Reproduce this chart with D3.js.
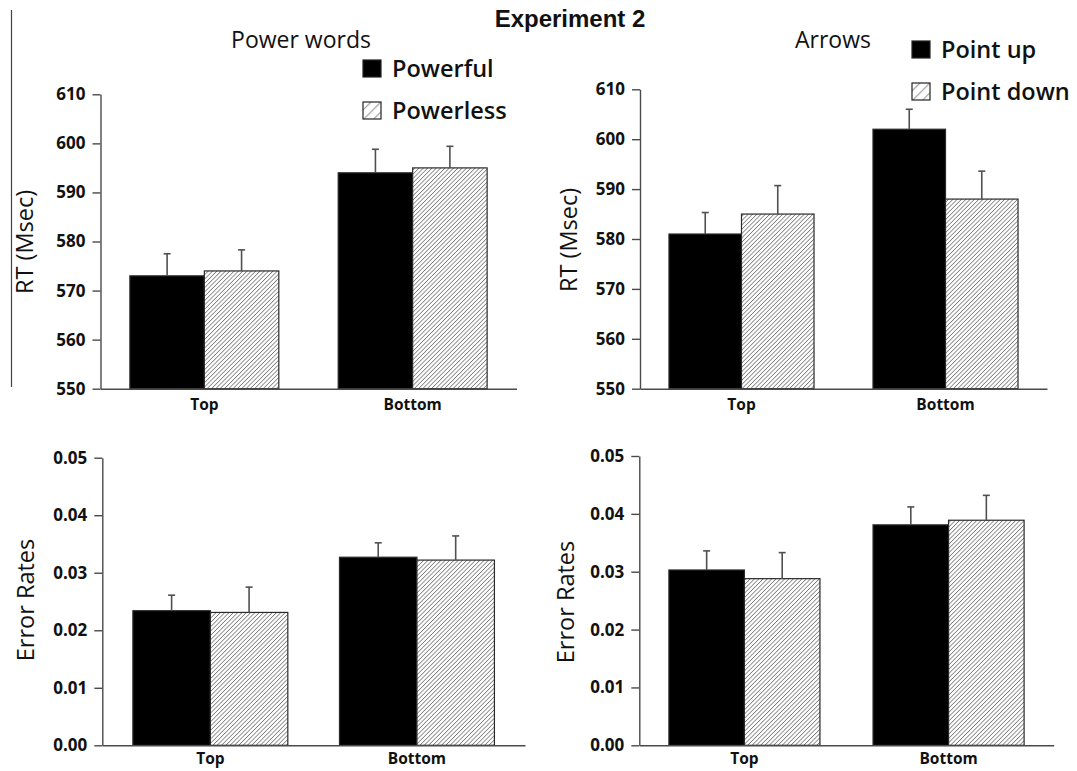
<!DOCTYPE html>
<html>
<head>
<meta charset="utf-8">
<script src="https://cdn.jsdelivr.net/npm/d3@7"></script>
<style>
  html, body { margin: 0; padding: 0; background: #fff; }
  svg { display: block; }
</style>
</head>
<body>
<div id="chart"></div>
<script>
const categories = ["Top", "Bottom"]
const powerSeries = ["Powerful", "Powerless"]
const arrowSeries = ["Point up", "Point down"]

const rtTicks = [550, 560, 570, 580, 590, 600, 610]
const errTicks = [0, 0.01, 0.02, 0.03, 0.04, 0.05]

// RT (msec), mean and SE per category (Top, Bottom)
const powerfulRT = [573, 594]
const powerfulRTse = [4.5, 4.8]
const powerlessRT = [574, 595]
const powerlessRTse = [4.3, 4.4]
const pointUpRT = [581, 602]
const pointUpRTse = [4.3, 4.0]
const pointDownRT = [585, 588]
const pointDownRTse = [5.7, 5.6]

// Error rates
const powerfulErr = [0.0234, 0.0327]
const powerfulErrSe = [0.0027, 0.0025]
const powerlessErr = [0.0231, 0.0322]
const powerlessErrSe = [0.0044, 0.0042]
const pointUpErr = [0.0303, 0.0381]
const pointUpErrSe = [0.0033, 0.0031]
const pointDownErr = [0.0288, 0.0389]
const pointDownErrSe = [0.0045, 0.0043]

const W = 1077, H = 771
const FONT = "'Open Sans', 'Noto Sans', sans-serif"
const axisColor = "#4a4a4a"

const svg = d3.select("#chart").append("svg")
  .attr("width", W)
  .attr("height", H)
  .style("font-family", FONT)

const defs = svg.append("defs")

function hatch(id, gap, width, color) {
  const p = defs.append("pattern")
    .attr("id", id)
    .attr("patternUnits", "userSpaceOnUse")
    .attr("width", gap)
    .attr("height", gap)
    .attr("patternTransform", "rotate(45)")
  p.append("rect").attr("width", gap).attr("height", gap).attr("fill", "#fff")
  p.append("line")
    .attr("x1", 0).attr("y1", 0)
    .attr("x2", 0).attr("y2", gap)
    .attr("stroke", color)
    .attr("stroke-width", width)
}
hatch("hatch", 3.05, 1.6, "#7a7a7a")
hatch("hatch-legend", 7, 2.4, "#a0a0a0")

const fills = ["#000", "url(#hatch)"]
const legendFills = ["#000", "url(#hatch-legend)"]

function drawPanel(cfg) {
  const g = svg.append("g")

  const x = d3.scaleBand()
    .domain(categories)
    .range([cfg.x0, cfg.x1])
    .paddingInner(cfg.padIn)
    .paddingOuter(cfg.padOut)

  const xs = d3.scaleBand()
    .domain(d3.range(cfg.series.length))
    .range([0, x.bandwidth()])

  const y = d3.scaleLinear()
    .domain(d3.extent(cfg.ticks))
    .range([cfg.yBottom, cfg.yTop])

  const rows = []
  cfg.series.forEach((s, si) => {
    categories.forEach((c, ci) => {
      rows.push({ si, c, v: cfg.values[si][ci], se: cfg.errors[si][ci] })
    })
  })

  // Bars
  g.selectAll(".bar")
    .data(rows)
    .enter()
    .append("rect")
    .attr("class", "bar")
    .attr("x", d => x(d.c) + xs(d.si))
    .attr("y", d => y(d.v))
    .attr("width", xs.bandwidth())
    .attr("height", d => y(cfg.ticks[0]) - y(d.v))
    .attr("fill", d => fills[d.si])
    .attr("stroke", "#2a2a2a")
    .attr("stroke-width", 1.2)

  // Error bars (upper only)
  const cx = d => x(d.c) + xs(d.si) + xs.bandwidth() / 2
  g.selectAll(".err")
    .data(rows)
    .enter()
    .append("line")
    .attr("class", "err")
    .attr("x1", cx).attr("x2", cx)
    .attr("y1", d => y(d.v))
    .attr("y2", d => y(d.v + d.se))
    .attr("stroke", "#505050")
    .attr("stroke-width", 1.6)
  g.selectAll(".cap")
    .data(rows)
    .enter()
    .append("line")
    .attr("class", "cap")
    .attr("x1", d => cx(d) - 3.5).attr("x2", d => cx(d) + 3.5)
    .attr("y1", d => y(d.v + d.se))
    .attr("y2", d => y(d.v + d.se))
    .attr("stroke", "#505050")
    .attr("stroke-width", 1.6)

  // Y axis
  const yAxis = g.append("g")
    .attr("transform", `translate(${cfg.x0},0)`)
    .call(d3.axisLeft(y).tickValues(cfg.ticks).tickFormat(cfg.format).tickSize(8).tickSizeOuter(0).tickPadding(7))
  yAxis.select(".domain").attr("stroke", axisColor).attr("stroke-width", 1.4)
  yAxis.selectAll(".tick line").attr("stroke", axisColor).attr("stroke-width", 1.4)
  yAxis.selectAll(".tick text")
    .attr("fill", "#111")
    .style("font-family", FONT)
    .style("font-size", "17px")
    .style("font-weight", "bold")

  // X axis
  const xAxis = g.append("g")
    .attr("transform", `translate(0,${cfg.yBottom})`)
    .call(d3.axisBottom(x).tickSize(0).tickSizeOuter(0))
  xAxis.select(".domain").attr("stroke", axisColor).attr("stroke-width", 1.4)
  xAxis.selectAll(".tick text")
    .attr("fill", "#111")
    .attr("y", cfg.catGap)
    .attr("dy", 0)
    .style("font-family", FONT)
    .style("font-size", "15.5px")
    .style("font-weight", "bold")

  // Y label
  g.append("text")
    .attr("transform", `translate(${cfg.labelX},${cfg.labelY}) rotate(-90)`)
    .attr("text-anchor", "middle")
    .attr("fill", "#111")
    .style("font-size", "23.5px")
    .text(cfg.ylabel)

  if (cfg.title) {
    g.append("text")
      .attr("x", cfg.title.x)
      .attr("y", cfg.title.y)
      .attr("text-anchor", "middle")
      .attr("fill", "#111")
      .style("font-size", "23px")
      .text(cfg.title.text)
  }

  if (cfg.legend) {
    const lg = g.selectAll(".legend")
      .data(cfg.series)
      .enter()
      .append("g")
      .attr("class", "legend")
      .attr("transform", (d, i) => `translate(${cfg.legend.x},${cfg.legend.y + i * cfg.legend.step})`)
    lg.append("rect")
      .attr("x", 0).attr("y", -17)
      .attr("width", 18).attr("height", 17)
      .attr("fill", (d, i) => legendFills[i])
      .attr("stroke", "#222")
      .attr("stroke-width", 1.2)
    lg.append("text")
      .attr("x", 29).attr("y", 0)
      .attr("fill", "#111")
      .style("font-size", "23.5px")
      .style("font-weight", "600")
      .text(d => d)
  }
}

// Header
svg.append("text")
  .attr("x", 570)
  .attr("y", 27)
  .attr("text-anchor", "middle")
  .attr("fill", "#111")
  .style("font-family", "'Liberation Sans', Arial, sans-serif")
  .style("font-size", "24px")
  .style("font-weight", "bold")
  .text("Experiment 2")

svg.append("line")
  .attr("x1", 11.5).attr("x2", 11.5)
  .attr("y1", 10).attr("y2", 387)
  .attr("stroke", "#444")
  .attr("stroke-width", 1.2)

drawPanel({
  series: powerSeries,
  values: [powerfulRT, powerlessRT],
  errors: [powerfulRTse, powerlessRTse],
  ticks: rtTicks, format: d3.format("d"),
  x0: 100.5, x1: 516.5, padIn: 0.285, padOut: 0.141,
  yBottom: 388.7, yTop: 94.3, catGap: 21,
  ylabel: "RT (Msec)", labelX: 33, labelY: 242,
  title: { text: "Power words", x: 301, y: 48 },
  legend: { x: 363, y: 77, step: 42 }
})

drawPanel({
  series: arrowSeries,
  values: [pointUpRT, pointDownRT],
  errors: [pointUpRTse, pointDownRTse],
  ticks: rtTicks, format: d3.format("d"),
  x0: 640, x1: 1047, padIn: 0.289, padOut: 0.142,
  yBottom: 388.7, yTop: 89.3, catGap: 21,
  ylabel: "RT (Msec)", labelX: 577, labelY: 240,
  title: { text: "Arrows", x: 833, y: 48 },
  legend: { x: 912, y: 58, step: 42 }
})

drawPanel({
  series: powerSeries,
  values: [powerfulErr, powerlessErr],
  errors: [powerfulErrSe, powerlessErrSe],
  ticks: errTicks, format: d3.format(".2f"),
  x0: 102.3, x1: 525, padIn: 0.25, padOut: 0.148,
  yBottom: 745.3, yTop: 457.7, catGap: 19,
  ylabel: "Error Rates", labelX: 34, labelY: 600
})

drawPanel({
  series: arrowSeries,
  values: [pointUpErr, pointDownErr],
  errors: [pointUpErrSe, pointDownErrSe],
  ticks: errTicks, format: d3.format(".2f"),
  x0: 639.3, x1: 1053.7, padIn: 0.26, padOut: 0.145,
  yBottom: 745.3, yTop: 456, catGap: 19,
  ylabel: "Error Rates", labelX: 574, labelY: 602
})
</script>
</body>
</html>
